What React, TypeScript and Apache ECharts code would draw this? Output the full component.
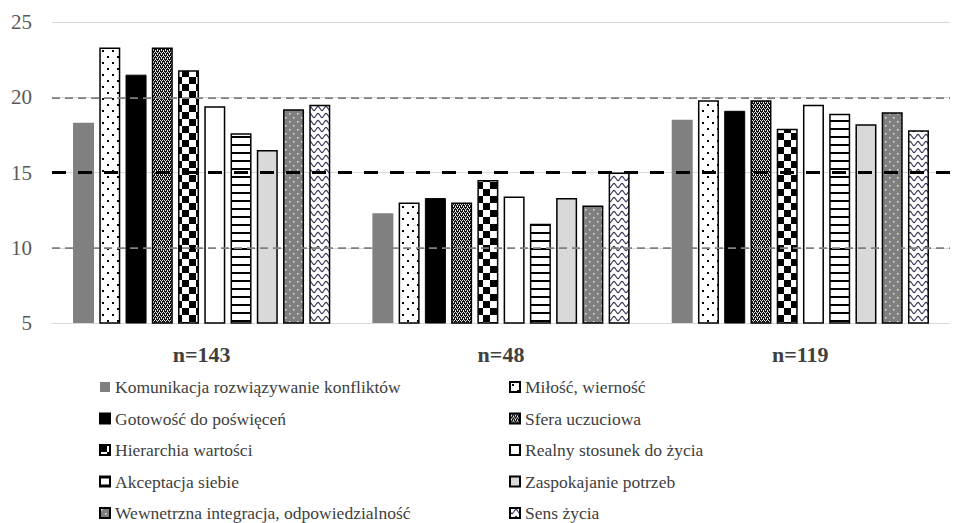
import React, { useEffect, useRef } from "react";
import * as echarts from "echarts";

const categories = ["n=143", "n=48", "n=119"];
const seriesNames = [
  "Komunikacja rozwiązywanie konfliktów",
  "Miłość, wierność",
  "Gotowość do poświęceń",
  "Sfera uczuciowa",
  "Hierarchia wartości",
  "Realny stosunek do życia",
  "Akceptacja siebie",
  "Zaspokajanie potrzeb",
  "Wewnetrzna integracja, odpowiedzialność",
  "Sens życia",
];
const komunikacja = [18.3, 12.3, 18.5];
const milosc = [23.3, 13.0, 19.8];
const gotowosc = [21.5, 13.3, 19.1];
const sfera = [23.3, 13.0, 19.8];
const hierarchia = [21.8, 14.5, 17.9];
const realny = [19.4, 13.4, 19.5];
const akceptacja = [17.6, 11.6, 18.9];
const zaspokajanie = [16.5, 13.3, 18.2];
const wewnetrzna = [19.2, 12.8, 19.0];
const sens = [19.5, 15.0, 17.8];
const seriesValues = [komunikacja, milosc, gotowosc, sfera, hierarchia, realny, akceptacja, zaspokajanie, wewnetrzna, sens];
const referenceLines = [20, 15, 10];
const yMin = 5;
const yMax = 25;
const yInterval = 5;

const FONT = "'Liberation Serif', 'Times New Roman', serif";

function tile(w: number, h: number, draw: (ctx: CanvasRenderingContext2D) => void) {
  const c = document.createElement("canvas");
  c.width = w;
  c.height = h;
  const ctx = c.getContext("2d") as CanvasRenderingContext2D;
  draw(ctx);
  return { image: c.toDataURL(), repeat: "repeat", imageWidth: w, imageHeight: h } as any;
}

function buildFills() {
  const dots = tile(10, 12, (ctx) => {
    ctx.fillStyle = "#fff";
    ctx.fillRect(0, 0, 10, 12);
    ctx.fillStyle = "#000";
    ctx.fillRect(2, 2, 2, 2);
    ctx.fillRect(7, 8, 2, 2);
  });
  const fine = tile(4, 4, (ctx) => {
    ctx.fillStyle = "#111";
    ctx.fillRect(0, 0, 4, 4);
    ctx.fillStyle = "#e8e8e8";
    ctx.fillRect(0, 0, 1, 1);
    ctx.fillRect(2, 0, 1, 1);
    ctx.fillRect(1, 2, 1, 1);
    ctx.fillRect(3, 2, 1, 1);
    ctx.fillRect(1, 1, 1, 1);
    ctx.fillRect(3, 3, 1, 1);
  });
  const checker = tile(14, 14, (ctx) => {
    ctx.fillStyle = "#fff";
    ctx.fillRect(0, 0, 14, 14);
    ctx.fillStyle = "#000";
    ctx.fillRect(0, 0, 7, 7);
    ctx.fillRect(7, 7, 7, 7);
  });
  const stripes = tile(8, 8, (ctx) => {
    ctx.fillStyle = "#fff";
    ctx.fillRect(0, 0, 8, 8);
    ctx.fillStyle = "#000";
    ctx.fillRect(0, 0, 8, 2);
  });
  const grayDots = tile(8, 8, (ctx) => {
    ctx.fillStyle = "#7f7f7f";
    ctx.fillRect(0, 0, 8, 8);
    ctx.fillStyle = "#e6e6e6";
    ctx.fillRect(1, 1, 1.5, 1.5);
    ctx.fillRect(5, 5, 1.5, 1.5);
  });
  const wave = tile(8, 7, (ctx) => {
    ctx.fillStyle = "#fff";
    ctx.fillRect(0, 0, 8, 7);
    ctx.strokeStyle = "#3e3458";
    ctx.lineWidth = 1.2;
    ctx.beginPath();
    for (let x = -1; x <= 9; x += 0.5) {
      const y = 3.5 + 2 * Math.sin((2 * Math.PI * x) / 8);
      if (x === -1) ctx.moveTo(x, y);
      else ctx.lineTo(x, y);
    }
    ctx.stroke();
  });
  return [
    { color: "#808080", borderColor: "#808080", borderWidth: 0 },
    { color: dots, borderColor: "#000", borderWidth: 1.5 },
    { color: "#000", borderColor: "#000", borderWidth: 1 },
    { color: fine, borderColor: "#000", borderWidth: 1.5 },
    { color: checker, borderColor: "#000", borderWidth: 1.5 },
    { color: "#fff", borderColor: "#000", borderWidth: 1.5 },
    { color: stripes, borderColor: "#000", borderWidth: 1.5 },
    { color: "#d9d9d9", borderColor: "#000", borderWidth: 1.5 },
    { color: grayDots, borderColor: "#000", borderWidth: 1.5 },
    { color: wave, borderColor: "#000", borderWidth: 1.5 },
  ];
}

const refStyles = [
  { color: "#808080", type: [8, 5], width: 1.75 },
  { color: "#000", type: [14, 12], width: 3 },
  { color: "#808080", type: [8, 5], width: 1.75 },
];

export default function App() {
  const ref = useRef<HTMLDivElement>(null);
  useEffect(() => {
    if (!ref.current) return;
    const chart = echarts.init(ref.current, null, { renderer: "svg" });
    const fills = buildFills();
    const legendText = { fontFamily: FONT, fontSize: 17.5, color: "#404040", lineHeight: 18 };
    const legendBase = {
      orient: "vertical",
      top: 378,
      height: 200,
      padding: 0,
      itemWidth: 10,
      itemHeight: 10,
      itemGap: 13.5,
      icon: "rect",
      textStyle: legendText,
      selectedMode: false,
    };
    const series: any[] = seriesNames.map((name, i) => ({
      name,
      type: "bar",
      data: seriesValues[i],
      barWidth: 21,
      barGap: "25%",
      itemStyle: fills[i],
      emphasis: { disabled: true },
    }));
    series[series.length - 1].markLine = {
      silent: true,
      symbol: ["none", "none"],
      label: { show: false },
      z: 10,
      data: referenceLines.map((v, i) => ({ yAxis: v, lineStyle: refStyles[i] })),
    };
    chart.setOption({
      animation: false,
      backgroundColor: "#fff",
      grid: { left: 52, right: 10, top: 22, bottom: 200, containLabel: false },
      legend: [
        { ...legendBase, left: 99, data: seriesNames.filter((_, i) => i % 2 === 0) },
        { ...legendBase, left: 509, data: seriesNames.filter((_, i) => i % 2 === 1) },
      ],
      xAxis: {
        type: "category",
        data: categories,
        axisLine: { show: true, lineStyle: { color: "#d9d9d9", width: 1 } },
        axisTick: { show: false },
        axisLabel: { fontFamily: FONT, fontSize: 22, fontWeight: "bold", color: "#404040", margin: 20 },
      },
      yAxis: {
        type: "value",
        min: yMin,
        max: yMax,
        interval: yInterval,
        axisLine: { show: false },
        axisTick: { show: false },
        splitLine: { lineStyle: { color: "#d9d9d9", width: 1 } },
        axisLabel: { fontFamily: FONT, fontSize: 21, color: "#595959", margin: 20 },
      },
      series,
    });
    return () => chart.dispose();
  }, []);
  return <div ref={ref} style={{ width: 960, height: 523, position: "absolute", left: 0, top: 0 }} />;
}
